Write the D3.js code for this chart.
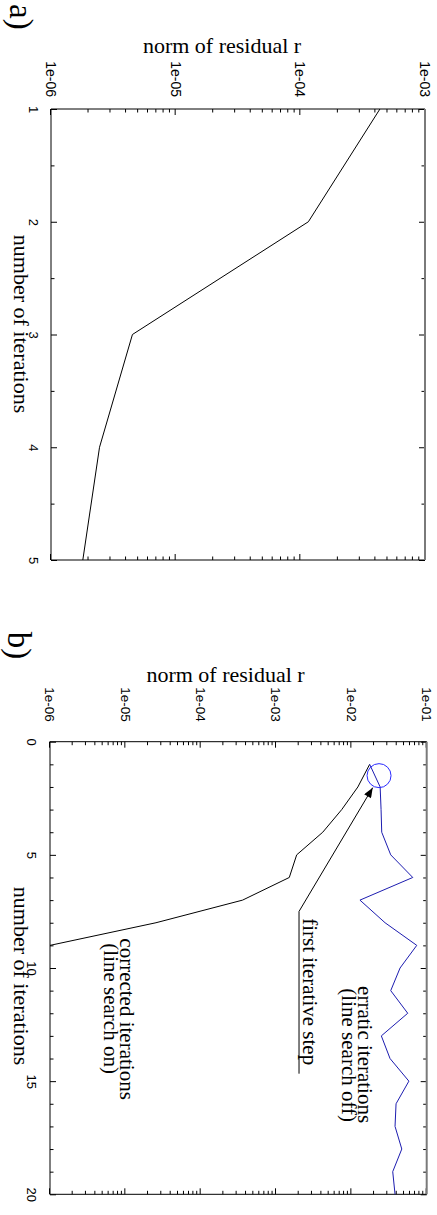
<!DOCTYPE html>
<html>
<head>
<meta charset="utf-8">
<script src="https://cdn.jsdelivr.net/npm/d3@7/dist/d3.min.js"></script>
<style>
  body { margin: 0; background: #fff; }
  svg { display: block; }
</style>
</head>
<body>
<svg id="chart" width="437" height="1215"></svg>
<script>
// panel a) : single run
const itersA = [1, 2, 3, 4, 5];
const residA = [4.35e-4, 1.16e-4, 4.5e-6, 2.45e-6, 1.8e-6];

// panel b) : line search on / off
const itersOn = [1, 2, 3, 4, 5, 6, 7, 8, 9];
const residOn = [1.75e-2, 1.22e-2, 7.45e-3, 4.17e-3, 1.88e-3, 1.5e-3, 3.6e-4, 2.55e-5, 1e-6];
const itersOff = [1, 2, 3, 4, 5, 6, 7, 8, 9, 10, 11, 12, 13, 14, 15, 16, 17, 18, 19, 20];
const residOff = [1.75e-2, 2.41e-2, 2.48e-2, 2.53e-2, 3.33e-2, 6.53e-2, 1.3e-2, 2.8e-2, 7.38e-2, 4.43e-2,
                  3.33e-2, 5.6e-2, 2.5e-2, 3.26e-2, 5.8e-2, 3.92e-2, 3.8e-2, 4.67e-2, 3.54e-2, 3.8e-2];

const residTicksA = [1e-6, 1e-5, 1e-4, 1e-3];
const residLabelsA = ['1e-06', '1e-05', '1e-04', '1e-03'];
const residTicksB = [1e-6, 1e-5, 1e-4, 1e-3, 1e-2, 1e-1];
const residLabelsB = ['1e-06', '1e-05', '1e-04', '1e-03', '1e-02', '1e-01'];
const iterTicksA = [1, 2, 3, 4, 5];
const iterTicksB = [0, 5, 10, 15, 20];

const SANS = '"Liberation Sans", Arial, sans-serif';
const SERIF = '"Liberation Serif", "Times New Roman", serif';

const svg = d3.select('#chart');

svg.append('defs').append('marker')
  .attr('id', 'head')
  .attr('viewBox', '0 0 10 8')
  .attr('refX', 10)
  .attr('refY', 4)
  .attr('markerWidth', 11)
  .attr('markerHeight', 8)
  .attr('markerUnits', 'userSpaceOnUse')
  .attr('orient', 'auto')
  .append('path')
  .attr('d', 'M0,0L10,4L0,8Z')
  .attr('fill', '#000');

const isPow10 = d => Math.abs(Math.log10(d) - Math.round(Math.log10(d))) < 1e-6;

// the figure is drawn in its own frame and turned a quarter turn clockwise
function panel(cfg) {
  const W = cfg.bottom - cfg.top;   // iteration axis length
  const H = cfg.right - cfg.left;   // residual axis length
  const g = svg.append('g')
    .attr('transform', `translate(${cfg.right},${cfg.top}) rotate(90)`);

  const x = d3.scaleLinear().domain(cfg.iterDomain).range([0, W]);
  const y = d3.scaleLog().domain(cfg.residDomain).range([H, 0]);

  const minorY = y.ticks().filter(d => !isPow10(d));
  const minorX = x.ticks(cfg.minorIterCount).filter(d => !cfg.iterTicks.includes(d));

  const styleAxis = (sel, size) => {
    sel.select('.domain').remove();
    sel.selectAll('.tick line').attr('stroke', '#000');
    sel.selectAll('.tick text')
      .attr('font-family', SANS)
      .attr('font-size', size)
      .attr('fill', '#000');
  };

  // residual axis (left in own frame) + mirror
  g.append('g')
    .call(d3.axisLeft(y).tickValues(cfg.residTicks)
      .tickFormat((d, i) => cfg.residLabels[i]).tickSize(-6).tickPadding(cfg.residPad))
    .call(s => styleAxis(s, cfg.residFont));
  g.append('g')
    .call(d3.axisLeft(y).tickValues(minorY).tickFormat('').tickSize(-3.5))
    .call(s => styleAxis(s, 0));
  g.append('g').attr('transform', `translate(${W},0)`)
    .call(d3.axisRight(y).tickValues(cfg.residTicks).tickFormat('').tickSize(-6))
    .call(s => styleAxis(s, 0));
  g.append('g').attr('transform', `translate(${W},0)`)
    .call(d3.axisRight(y).tickValues(minorY).tickFormat('').tickSize(-3.5))
    .call(s => styleAxis(s, 0));

  // iteration axis (bottom in own frame) + mirror
  g.append('g').attr('transform', `translate(0,${H})`)
    .call(d3.axisBottom(x).tickValues(cfg.iterTicks).tickFormat(d => String(d))
      .tickSize(-6).tickPadding(cfg.iterPad))
    .call(s => styleAxis(s, cfg.iterFont));
  g.append('g').attr('transform', `translate(0,${H})`)
    .call(d3.axisBottom(x).tickValues(minorX).tickFormat('').tickSize(-3.5))
    .call(s => styleAxis(s, 0));
  g.append('g')
    .call(d3.axisTop(x).tickValues(cfg.iterTicks).tickFormat('').tickSize(-6))
    .call(s => styleAxis(s, 0));
  g.append('g')
    .call(d3.axisTop(x).tickValues(minorX).tickFormat('').tickSize(-3.5))
    .call(s => styleAxis(s, 0));

  // frame
  const frame = g.append('g').attr('fill', 'none');
  frame.append('line').attr('x1', 0).attr('x2', 0).attr('y1', 0).attr('y2', H).attr('stroke', '#000');
  frame.append('line').attr('x1', 0).attr('x2', W).attr('y1', H).attr('y2', H).attr('stroke', '#000');
  frame.append('line').attr('x1', W).attr('x2', W).attr('y1', 0).attr('y2', H).attr('stroke', '#000');
  frame.append('line').attr('x1', 0).attr('x2', W).attr('y1', 0).attr('y2', 0)
    .attr('stroke', '#7a7a7a').attr('stroke-width', 2);

  // titles
  g.append('text')
    .attr('transform', `translate(${cfg.yTitle[0]},${cfg.yTitle[1]}) rotate(-90)`)
    .attr('text-anchor', 'middle')
    .attr('font-family', SERIF).attr('font-size', 22)
    .text('norm of residual r');
  g.append('text')
    .attr('x', cfg.xTitle[0]).attr('y', cfg.xTitle[1])
    .attr('text-anchor', 'middle')
    .attr('font-family', SERIF).attr('font-size', 22)
    .text('number of iterations');
  g.append('text')
    .attr('x', cfg.tag[0]).attr('y', cfg.tag[1])
    .attr('font-family', SERIF).attr('font-size', 33)
    .text(cfg.tagText);

  const line = d3.line().x(d => x(d[0])).y(d => y(d[1]));
  cfg.series.forEach(s => {
    g.append('path')
      .datum(d3.zip(s.iters, s.resid))
      .attr('d', line)
      .attr('fill', 'none')
      .attr('stroke', s.color)
      .attr('stroke-width', 1);
  });

  return { g, x, y };
}

// ---- a)
panel({
  left: 51, right: 425, top: 109, bottom: 560,
  iterDomain: [1, 5], residDomain: [1e-6, 1e-3],
  iterTicks: iterTicksA, minorIterCount: 8,
  residTicks: residTicksA, residLabels: residLabelsA,
  residPad: 12, residFont: 14, iterPad: 12.5, iterFont: 13,
  yTitle: [-56, 203], xTitle: [215, 411], tag: [-105, 415], tagText: 'a)',
  series: [{ iters: itersA, resid: residA, color: '#000' }]
});

// ---- b)
const b = panel({
  left: 50, right: 426.7, top: 741.7, bottom: 1194.3,
  iterDomain: [0, 20], residDomain: [1e-6, 1e-1],
  iterTicks: iterTicksB, minorIterCount: 20,
  residTicks: residTicksB, residLabels: residLabelsB,
  residPad: 20, residFont: 13.5, iterPad: 13.3, iterFont: 13,
  yTitle: [-59.7, 201.2], xTitle: [234.3, 412.7], tag: [-110, 418.7], tagText: 'b)',
  series: [
    { iters: itersOn, resid: residOn, color: '#000' },
    { iters: itersOff, resid: residOff, color: '#1c1cb0' }
  ]
});

// annotations of b), placed in data units
const bx = b.x, by = b.y;
b.g.append('circle')
  .attr('cx', bx(1.5)).attr('cy', by(2.33e-2)).attr('r', 12)
  .attr('fill', 'none').attr('stroke', '#2a2aff').attr('stroke-width', 1);

b.g.append('line')
  .attr('x1', bx(7.5)).attr('y1', by(2.02e-3))
  .attr('x2', bx(2.03)).attr('y2', by(1.92e-2))
  .attr('stroke', '#000').attr('marker-end', 'url(#head)');
b.g.append('line')
  .attr('x1', bx(7.5)).attr('y1', by(2.02e-3))
  .attr('x2', bx(14.67)).attr('y2', by(2.02e-3))
  .attr('stroke', '#000');

const notes = [
  { it: 7.8, r: 2.3e-3, text: 'first iterative step' },
  { it: 8.69, r: 8.5e-6, text: 'corrected iterations' },
  { it: 8.91, r: 5.2e-6, text: '(line search on)' },
  { it: 10.8, r: 1.24e-2, text: 'erratic iterations' },
  { it: 10.9, r: 7.5e-3, text: '(line search off)' }
];
b.g.selectAll('text.note').data(notes).enter().append('text')
  .attr('class', 'note')
  .attr('x', d => bx(d.it)).attr('y', d => by(d.r))
  .attr('font-family', SERIF).attr('font-size', 21)
  .text(d => d.text);
</script>
</body>
</html>
